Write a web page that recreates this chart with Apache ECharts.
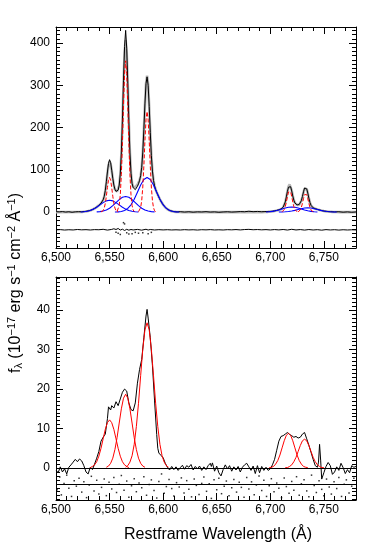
<!DOCTYPE html>
<html><head><meta charset="utf-8">
<script src="https://cdn.jsdelivr.net/npm/echarts@6/dist/echarts.min.js"></script>
<style>html,body{margin:0;padding:0;background:#fff;}#c{width:374px;height:556px;}</style>
</head><body><div id="c"></div>
<script>
// ---------------- DATA ----------------
const xRange = [6500, 6780];
const topYRange = [-85, 438];
const botYRange = [-8.1, 48.4];
const xTickLabels = [6500, 6550, 6600, 6650, 6700, 6750];
const topYTickLabels = [0, 100, 200, 300, 400];
const botYTickLabels = [0, 10, 20, 30, 40];
const botResidualOffset = -4;

// Top panel: observed spectrum [wavelength, flux]
const topSpectrum = [[6500,1],[6503,0.5],[6506,1.2],[6509,0],[6512,0.8],[6515,-0.5],[6518,0.6],[6521,1],[6524,0.8],[6527,1.5],[6530,2.8],[6532,4],[6534,6],[6536,8.6],[6538,12],[6540,16],[6541,18.5],[6542,21],[6543,24],[6544,29],[6545,37],[6546,51],[6547,72],[6548,95],[6549,115],[6550,124],[6551,117],[6552,99],[6553,80],[6554,64],[6555,54],[6556,49],[6557,48],[6558,52],[6559,64],[6560,90],[6561,140],[6562,218],[6563,312],[6564,392],[6565,430],[6566,388],[6567,305],[6568,215],[6569,140],[6570,92],[6571,68],[6572,58],[6573,54],[6574,53],[6575,56],[6576,61],[6577,67],[6578,75],[6579,86],[6580,106],[6581,142],[6582,195],[6583,256],[6584,304],[6585,320],[6586,300],[6587,250],[6588,188],[6589,134],[6590,97],[6591,75],[6592,62],[6593,53],[6594,47],[6595,41],[6596,35.5],[6597,30],[6598,25.5],[6599,21],[6600,17],[6602,11],[6604,7],[6606,4],[6608,2.5],[6610,1.2],[6613,0.5],[6616,1],[6620,0],[6624,0.8],[6628,-0.3],[6632,0.6],[6636,0.2],[6640,1],[6644,0],[6648,0.5],[6652,-0.5],[6656,0.3],[6660,0.8],[6664,0],[6668,0.5],[6672,1.2],[6676,0.8],[6680,2],[6684,1],[6688,1.5],[6692,0.8],[6695,1.2],[6698,1.5],[6700,1.5],[6702,2],[6704,3],[6706,4],[6708,5.5],[6709,6.5],[6710,7.5],[6711,9],[6712,11.5],[6713,16],[6714,24],[6715,36],[6716,49],[6717,59],[6718,63],[6719,60],[6720,50],[6721,38],[6722,28],[6723,21.5],[6724,18],[6725,17],[6726,17],[6727,18],[6728,21],[6729,27],[6730,37],[6731,48],[6732,57],[6733,60],[6734,55],[6735,45],[6736,33],[6737,23],[6738,16],[6739,12.5],[6740,10],[6742,8],[6744,6.5],[6746,5],[6748,3.5],[6750,2.5],[6753,1.5],[6756,1],[6760,0.5],[6764,0.8],[6768,-0.3],[6772,0.5],[6776,-0.5],[6780,0.3]];

// Top panel: total model (grey)
const topModel = [[6500,0],[6522,0.2],[6525,0.6],[6528,1.4],[6530,2.5],[6532,3.9],[6534,5.9],[6536,8.5],[6538,11.9],[6540,15.9],[6541,18.1],[6542,20.6],[6543,23.7],[6544,28.4],[6545,36.4],[6546,49.8],[6547,69.1],[6548,91.5],[6549,110.6],[6550,119.2],[6551,114],[6552,98.4],[6553,79.3],[6554,63.3],[6555,53.2],[6556,48.8],[6557,48.5],[6558,52],[6559,63.2],[6560,88.7],[6561,137.4],[6562,212.6],[6563,302],[6564,377.3],[6565,407.2],[6566,377.6],[6567,302.6],[6568,213.9],[6569,139.5],[6570,92.2],[6571,68.4],[6572,59.2],[6573,57.7],[6574,59.1],[6575,61.5],[6576,64.8],[6577,69.1],[6578,75.1],[6579,85.4],[6580,105.3],[6581,140.3],[6582,192.3],[6583,253.1],[6584,303.6],[6585,323.1],[6586,302],[6587,250],[6588,187.5],[6589,133.8],[6590,96.9],[6591,75],[6592,62.1],[6593,53.6],[6594,46.9],[6595,41],[6596,35.5],[6597,30.3],[6598,25.5],[6599,21.2],[6600,17.3],[6601,13.9],[6602,11.1],[6603,8.7],[6604,6.7],[6605,5.2],[6606,3.9],[6607,2.9],[6608,2.1],[6609,1.5],[6610,1.1],[6612,0.5],[6615,0.2],[6618,0],[6692,0],[6695,0.3],[6698,0.6],[6700,1],[6702,1.6],[6704,2.6],[6706,3.7],[6708,5],[6709,5.9],[6710,6.9],[6711,8.3],[6712,10.8],[6713,15.3],[6714,23.2],[6715,35],[6716,48.8],[6717,60.5],[6718,65.4],[6719,61.7],[6720,51.3],[6721,38.7],[6722,28.1],[6723,21.4],[6724,17.9],[6725,16.6],[6726,16.5],[6727,17.6],[6728,20.6],[6729,26.5],[6730,35.7],[6731,46.6],[6732,55.7],[6733,59],[6734,54.8],[6735,44.8],[6736,33],[6737,23],[6738,16.2],[6739,12.4],[6740,10.2],[6742,8],[6744,6.4],[6746,4.9],[6748,3.6],[6750,2.5],[6752,1.7],[6754,1.1],[6756,0.7],[6758,0.4],[6760,0.3],[6762,0.1],[6765,0],[6780,0]];

// Top panel: narrow components (red, dashed)
const topRed1 = [[6542,0.3],[6543,1.1],[6544,3.6],[6545,9.3],[6546,20.4],[6547,37.6],[6548,58],[6549,75.2],[6550,82],[6551,75.2],[6552,58],[6553,37.6],[6554,20.4],[6555,9.3],[6556,3.6],[6557,1.1],[6558,0.3]];
const topRed2 = [[6557,1.4],[6558,5],[6559,15.8],[6560,40.8],[6561,89.1],[6562,164],[6563,253.1],[6564,328.3],[6565,358],[6566,328.3],[6567,253.1],[6568,164],[6569,89.1],[6570,40.8],[6571,15.8],[6572,5],[6573,1.4]];
const topRed3 = [[6577,1],[6578,3.3],[6579,10.5],[6580,27.1],[6581,59.3],[6582,109],[6583,168.3],[6584,218.2],[6585,238],[6586,218.2],[6587,168.3],[6588,109],[6589,59.3],[6590,27.1],[6591,10.5],[6592,3.3],[6593,1]];
const topRed4 = [[6711,0.7],[6712,2.3],[6713,5.9],[6714,12.9],[6715,23.8],[6716,36.8],[6717,47.7],[6718,52],[6719,47.7],[6720,36.8],[6721,23.8],[6722,12.9],[6723,5.9],[6724,2.3],[6725,0.7]];
const topRed5 = [[6726,0.6],[6727,2],[6728,5.1],[6729,11.2],[6730,20.6],[6731,31.8],[6732,41.3],[6733,45],[6734,41.3],[6735,31.8],[6736,20.6],[6737,11.2],[6738,5.1],[6739,2],[6740,0.6]];

// Top panel: broad components (blue)
const topBlue1 = [[6523,0.3],[6526,0.8],[6529,1.8],[6532,3.8],[6535,7],[6538,11.5],[6541,17],[6544,22.4],[6547,26.5],[6550,28],[6553,26.5],[6556,22.4],[6559,17],[6562,11.5],[6565,7],[6568,3.8],[6571,1.8],[6574,0.8],[6577,0.3]];
const topBlue2 = [[6538,0.4],[6541,1.1],[6544,2.4],[6547,5],[6550,9.2],[6553,15.2],[6556,22.5],[6559,29.6],[6562,35],[6565,37],[6568,35],[6571,29.6],[6574,22.5],[6577,15.2],[6580,9.2],[6583,5],[6586,2.4],[6589,1.1],[6592,0.4]];
const topBlue3 = [[6555,0.2],[6558,0.5],[6561,1.5],[6564,3.9],[6567,8.7],[6570,17.3],[6573,30.3],[6576,46.8],[6579,63.9],[6582,77.1],[6585,82],[6588,77.1],[6591,63.9],[6594,46.8],[6597,30.3],[6600,17.3],[6603,8.7],[6606,3.9],[6609,1.5],[6612,0.5],[6615,0.2]];
const topBlue4 = [[6696,0.3],[6699,0.8],[6702,1.6],[6705,3],[6708,4.9],[6711,7.3],[6714,9.6],[6717,11.4],[6720,12],[6723,11.4],[6726,9.6],[6729,7.3],[6732,4.9],[6735,3],[6738,1.6],[6741,0.8],[6744,0.3]];
const topBlue5 = [[6708,0.1],[6711,0.3],[6714,0.7],[6717,1.4],[6720,2.5],[6723,4.1],[6726,6.1],[6729,8],[6732,9.5],[6735,10],[6738,9.5],[6741,8],[6744,6.1],[6747,4.1],[6750,2.5],[6753,1.4],[6756,0.7],[6759,0.3],[6762,0.1]];

// Top panel: residuals (offset)
const topResidual = [[6500,-42],[6504,-41.5],[6508,-42.5],[6512,-41.8],[6516,-42.3],[6520,-41.2],[6524,-42],[6528,-41.6],[6532,-42.4],[6536,-41.5],[6540,-41.8],[6544,-40.8],[6548,-42.6],[6552,-41],[6554,-39.5],[6556,-41.2],[6558,-38.8],[6560,-42.5],[6562,-40.5],[6564,-43.5],[6566,-40.8],[6568,-42.8],[6570,-41.2],[6572,-42.3],[6576,-41],[6580,-42.8],[6584,-40.6],[6586,-42.5],[6588,-41.2],[6592,-42.4],[6596,-41.6],[6600,-42.2],[6604,-41.7],[6608,-42.3],[6612,-41.9],[6616,-42.4],[6620,-41.6],[6624,-42.2],[6628,-41.8],[6632,-42.5],[6636,-41.7],[6640,-42.1],[6644,-41.5],[6648,-42.3],[6652,-41.9],[6656,-42.4],[6660,-41.6],[6664,-42],[6668,-41.4],[6672,-42.2],[6676,-41.3],[6680,-40.9],[6684,-41.8],[6688,-41.3],[6692,-42],[6696,-41.5],[6700,-42.3],[6704,-41.4],[6708,-42.2],[6712,-41.2],[6716,-42.5],[6720,-40.8],[6724,-42.3],[6728,-41.4],[6732,-42.6],[6736,-41.3],[6740,-42.4],[6744,-41.6],[6748,-42.8],[6752,-41.5],[6756,-42.3],[6760,-41.7],[6764,-42.6],[6768,-41.8],[6772,-42.4],[6776,-41.9],[6780,-42.2]];
const topResidualDots = [[6556,-48],[6558,-50],[6560,-53],[6563,-25],[6564,-28],[6566,-49],[6568,-52],[6571,-51],[6574,-48],[6577,-50],[6581,-49],[6586,-51],[6589,-48]];

// Bottom panel: observed spectrum
const botSpectrum = [[6500,-0.5],[6502,-1.2],[6504,0.3],[6506,-1],[6508,-0.2],[6510,-1.5],[6512,0.2],[6514,0.8],[6516,1.5],[6518,2.2],[6520,1.6],[6522,2.3],[6524,1.8],[6526,0.6],[6528,-1],[6530,-1.5],[6532,0.2],[6534,-0.4],[6536,1],[6538,2.5],[6540,4.2],[6542,6.8],[6544,7.8],[6546,8.6],[6548,12.5],[6549,15.5],[6550,15],[6551,14.7],[6552,15.8],[6554,15.2],[6556,16.8],[6558,15.8],[6560,17.5],[6562,19.2],[6564,20],[6566,19.5],[6568,16.5],[6570,14.8],[6572,14.5],[6574,16.5],[6576,21.5],[6578,25],[6580,27.5],[6582,33],[6584,38.5],[6585,40.2],[6586,38],[6588,33],[6590,26],[6592,17],[6594,8.5],[6595,5],[6596,3.8],[6598,3.2],[6600,2.6],[6602,1.2],[6604,0.2],[6606,-0.5],[6608,0.4],[6610,-0.4],[6612,0.3],[6614,-0.6],[6616,0.1],[6618,0.7],[6620,-0.3],[6622,0.6],[6624,0.2],[6626,0.9],[6628,-0.5],[6630,0.4],[6632,-0.2],[6634,0.5],[6636,-0.6],[6638,0.3],[6640,-0.4],[6642,0.6],[6644,1.2],[6645,0.4],[6646,1.3],[6648,-0.8],[6650,0.5],[6652,-1.2],[6654,-2],[6656,-0.4],[6658,0.8],[6660,-0.2],[6662,0.6],[6664,-0.8],[6666,0.3],[6668,-0.5],[6670,0.4],[6672,-1],[6674,0.2],[6676,0.8],[6678,1.2],[6680,0.3],[6682,-0.6],[6684,0.5],[6686,-1.4],[6688,0.6],[6690,-1.2],[6692,0.4],[6694,-0.6],[6696,0.2],[6698,-0.6],[6700,-0.2],[6702,0.8],[6704,2.2],[6706,4.5],[6708,6.8],[6710,8],[6712,8.2],[6714,8.6],[6716,9],[6718,8.5],[6720,8.2],[6722,7.8],[6724,8],[6726,7.6],[6728,7.8],[6730,8.6],[6732,9],[6734,7.4],[6736,5.8],[6738,4],[6740,2.2],[6742,0.6],[6744,0.2],[6745,1.5],[6746,6],[6747,2],[6748,-2.8],[6750,-1.2],[6752,0.4],[6754,1.4],[6756,0.6],[6758,-1.6],[6760,-1],[6762,0.3],[6764,-0.6],[6766,1.2],[6768,0.1],[6770,-1.4],[6772,-0.4],[6774,-1.2],[6776,0.6],[6778,0.2],[6780,0.4]];

// Bottom panel: fitted components (red)
const botRed1 = [[6532,0.1],[6534,0.4],[6536,0.8],[6538,1.6],[6540,3],[6542,5],[6544,7.4],[6546,9.8],[6548,11.5],[6550,12.2],[6552,11.5],[6554,9.8],[6556,7.4],[6558,5],[6560,3],[6562,1.6],[6564,0.8],[6566,0.4],[6568,0.1]];
const botRed2 = [[6547,0.2],[6549,0.5],[6551,1.2],[6553,2.5],[6555,4.7],[6557,7.7],[6559,11.4],[6561,15],[6563,17.7],[6565,18.7],[6567,17.7],[6569,15],[6571,11.4],[6573,7.7],[6575,4.7],[6577,2.5],[6579,1.2],[6581,0.5],[6583,0.2]];
const botRed3 = [[6565,0.2],[6567,0.6],[6569,1.5],[6571,3.1],[6573,6],[6575,10.5],[6577,16.4],[6579,23.4],[6581,30.1],[6583,35],[6585,36.8],[6587,35],[6589,30.1],[6591,23.4],[6593,16.4],[6595,10.5],[6597,6],[6599,3.1],[6601,1.5],[6603,0.6],[6605,0.2]];
const botRed4 = [[6699,0.1],[6701,0.2],[6703,0.4],[6705,1],[6707,1.9],[6709,3.3],[6711,5.1],[6713,6.9],[6715,8.3],[6717,8.8],[6719,8.3],[6721,6.9],[6723,5.1],[6725,3.3],[6727,1.9],[6729,1],[6731,0.4],[6733,0.2],[6735,0.1]];
const botRed5 = [[6714,0.1],[6716,0.1],[6718,0.4],[6720,0.8],[6722,1.6],[6724,2.7],[6726,4.2],[6728,5.7],[6730,6.9],[6732,7.3],[6734,6.9],[6736,5.7],[6738,4.2],[6740,2.7],[6742,1.6],[6744,0.8],[6746,0.4],[6748,0.1],[6750,0.1]];

// Bottom panel: residual points (offset)
const botResidualDots = [[6501,-5.5],[6503.5,-2.3],[6505,-6.8],[6507.5,-3.9],[6510,-1.8],[6512,-5.1],[6514.5,-7.2],[6517,-3.2],[6519,-4.6],[6521.5,-2.6],[6524,-6.1],[6526,-3.5],[6528.5,-7.5],[6531,-4.3],[6533,-2.1],[6535.5,-5.8],[6538,-3.1],[6540,-6.6],[6542.5,-4.9],[6545,-2.8],[6547,-7.0],[6549.5,-3.6],[6552,-5.3],[6554,-2.4],[6556.5,-6.2],[6559,-4.1],[6561,-1.9],[6563.5,-5.6],[6566,-3.3],[6568,-7.4],[6570.5,-4.5],[6573,-2.7],[6575,-6.0],[6577.5,-3.8],[6580,-5.0],[6582,-2.2],[6584.5,-6.9],[6587,-4.2],[6589,-3.0],[6591.5,-5.7],[6594,-7.6],[6596,-3.4],[6598.5,-1.5],[6601,-6.4],[6603,-4.7],[6605.5,-2.9],[6608,-5.2],[6610,-7.1],[6612.5,-3.7],[6615,-4.8],[6617,-2.5],[6619.5,-6.3],[6622,-3.2],[6624,-5.4],[6626.5,-7.3],[6629,-2.8],[6631,-4.4],[6633.5,-6.7],[6636,-3.9],[6638,-2.3],[6640.5,-5.9],[6643,-4.0],[6645,-7.7],[6647.5,-3.0],[6650,-5.5],[6652,-2.6],[6654.5,-6.5],[6657,-4.6],[6659,-3.3],[6661.5,-7.0],[6664,-5.0],[6666,-2.9],[6668.5,-6.1],[6671,-3.6],[6673,-4.9],[6675.5,-7.4],[6678,-2.4],[6680,-5.3],[6682.5,-3.5],[6685,-6.8],[6687,-4.3],[6689.5,-2.0],[6692,-5.7],[6694,-3.1],[6696.5,-7.2],[6699,-4.5],[6701,-2.7],[6703.5,-6.0],[6706,-3.8],[6708,-5.1],[6710.5,-7.5],[6713,-2.5],[6715,-4.7],[6717.5,-6.4],[6720,-3.4],[6722,-5.6],[6724.5,-2.2],[6727,-6.9],[6729,-4.0],[6731.5,-3.0],[6734,-5.8],[6736,-7.3],[6738.5,-1.8],[6741,-4.4],[6743,-6.2],[6745.5,-3.2],[6748,-5.4],[6750,-7.0],[6752.5,-2.8],[6755,-4.8],[6757,-6.6],[6759.5,-3.5],[6762,-5.2],[6764,-2.4],[6766.5,-7.2],[6769,-4.1],[6771,-3.0],[6773.5,-6.3],[6776,-4.6],[6778,-2.6]];

// ---------------- CHART ----------------
const FONT = '"Liberation Sans", Arial, Helvetica, sans-serif';

function minorVals(lo, hi, step, majorStep) {
  const out = [];
  const n = Math.round((hi - lo) / step);
  for (let i = 0; i <= n; i++) {
    const v = Math.round((lo + i * step) * 1000) / 1000;
    const q = v / majorStep;
    if (Math.abs(q - Math.round(q)) > 1e-6) out.push(v);
  }
  return out;
}
const xMinor = minorVals(6510, 6770, 10, 50);
const topYMinor = minorVals(-80, 430, 10, 100);
const botYMinor = minorVals(-8, 48, 1, 10);

const MAJ = 7, MIN = 4;
function tick(vals, len) {
  return { show: true, inside: true, length: len, customValues: vals, lineStyle: { color: '#000', width: 1 } };
}
function xAxes(g) {
  const base = { gridIndex: g, type: 'value', min: xRange[0], max: xRange[1], splitLine: { show: false } };
  const line = { show: true, onZero: false, lineStyle: { color: '#000', width: 1 } };
  return [
    Object.assign({}, base, { position: 'bottom', axisLine: line, axisTick: tick(xTickLabels, MAJ),
      axisLabel: { show: true, customValues: xTickLabels, margin: 4, color: '#000', fontSize: 12, fontFamily: FONT } }),
    Object.assign({}, base, { position: 'bottom', axisLine: { show: false, onZero: false }, axisTick: tick(xMinor, MIN), axisLabel: { show: false } }),
    Object.assign({}, base, { position: 'top', axisLine: line, axisTick: tick(xTickLabels, MAJ), axisLabel: { show: false } }),
    Object.assign({}, base, { position: 'top', axisLine: { show: false, onZero: false }, axisTick: tick(xMinor, MIN), axisLabel: { show: false } })
  ];
}
function yAxes(g, range, major, minor) {
  const base = { gridIndex: g, type: 'value', min: range[0], max: range[1], splitLine: { show: false } };
  const line = { show: true, onZero: false, lineStyle: { color: '#000', width: 1 } };
  return [
    Object.assign({}, base, { position: 'left', axisLine: line, axisTick: tick(major, MAJ),
      axisLabel: { show: true, customValues: major, margin: 6, color: '#000', fontSize: 12, fontFamily: FONT } }),
    Object.assign({}, base, { position: 'left', axisLine: { show: false, onZero: false }, axisTick: tick(minor, MIN), axisLabel: { show: false } }),
    Object.assign({}, base, { position: 'right', axisLine: line, axisTick: tick(major, MAJ), axisLabel: { show: false } }),
    Object.assign({}, base, { position: 'right', axisLine: { show: false, onZero: false }, axisTick: tick(minor, MIN), axisLabel: { show: false } })
  ];
}

function line(data, g, color, width, type, z) {
  return { type: 'line', xAxisIndex: g * 4, yAxisIndex: g * 4, data: data, symbol: 'none', showSymbol: false,
    lineStyle: { color: color, width: width, type: type || 'solid' }, z: z, silent: true, animation: false, clip: true };
}
function dots(data, g, size) {
  return { type: 'scatter', xAxisIndex: g * 4, yAxisIndex: g * 4, data: data, symbol: 'rect', symbolSize: size,
    itemStyle: { color: '#000' }, z: 5, silent: true, animation: false };
}

const RED = '#ff0000', BLUE = '#0000ff';
const series = [
  line(topModel, 0, '#b8b8b8', 2.6, 'solid', 2),
  line(topSpectrum, 0, '#000', 1, 'solid', 3),
  line(topResidual, 0, '#000', 1, 'solid', 3),
  dots(topResidualDots, 0, 1.5),
  line(topBlue1, 0, BLUE, 1.1, 'solid', 4),
  line(topBlue2, 0, BLUE, 1.1, 'solid', 4),
  line(topBlue3, 0, BLUE, 1.1, 'solid', 4),
  line(topBlue4, 0, BLUE, 1.1, 'solid', 4),
  line(topBlue5, 0, BLUE, 1.1, 'solid', 4),
  line(topRed1, 0, RED, 1, [4, 2], 5),
  line(topRed2, 0, RED, 1, [4, 2], 5),
  line(topRed3, 0, RED, 1, [4, 2], 5),
  line(topRed4, 0, RED, 1, [4, 2], 5),
  line(topRed5, 0, RED, 1, [4, 2], 5),
  Object.assign(line(botSpectrum, 1, '#000', 1, 'solid', 3), {
    markLine: { silent: true, symbol: ['none', 'none'], animation: false, label: { show: false },
      lineStyle: { color: '#000', width: 1, type: 'solid' },
      data: [{ yAxis: 0 }, { yAxis: botResidualOffset }] }
  }),
  line(botRed1, 1, RED, 1, 'solid', 4),
  line(botRed2, 1, RED, 1, 'solid', 4),
  line(botRed3, 1, RED, 1, 'solid', 4),
  line(botRed4, 1, RED, 1, 'solid', 4),
  line(botRed5, 1, RED, 1, 'solid', 4),
  dots(botResidualDots, 1, 1.5)
];

const chart = echarts.init(document.getElementById('c'), null, { renderer: 'canvas' });
chart.setOption({
  animation: false,
  backgroundColor: '#fff',
  grid: [
    { left: 56, top: 27, width: 300, height: 221, outerBoundsMode: 'none', containLabel: false },
    { left: 56, top: 277, width: 300, height: 223, outerBoundsMode: 'none', containLabel: false }
  ],
  xAxis: xAxes(0).concat(xAxes(1)),
  yAxis: yAxes(0, topYRange, topYTickLabels, topYMinor).concat(yAxes(1, botYRange, botYTickLabels, botYMinor)),
  series: series,
  graphic: [
    { type: 'text', x: 218, y: 535, silent: true,
      style: { text: 'Restframe Wavelength (Å)', fill: '#000', font: '16px ' + FONT, align: 'center', verticalAlign: 'middle' } },
    { type: 'text', x: 15, y: 283, rotation: Math.PI / 2, silent: true,
      style: {
        text: '{n|f}{sub|λ}{n| (10}{sup|−17}{n| erg s}{sup|−1}{n| cm}{sup|−2}{n| Å}{sup|−1}{n|)}',
        align: 'center', verticalAlign: 'middle', fill: '#000', fontFamily: FONT, fontSize: 16,
        rich: {
          n: { fontSize: 16, lineHeight: 18, verticalAlign: 'bottom', fontFamily: FONT, fill: '#000' },
          sup: { fontSize: 11, lineHeight: 11, verticalAlign: 'top', fontFamily: FONT, fill: '#000' },
          sub: { fontSize: 11, lineHeight: 8, verticalAlign: 'bottom', fontFamily: FONT, fill: '#000' }
        }
      } }
  ]
});
</script></body></html>
